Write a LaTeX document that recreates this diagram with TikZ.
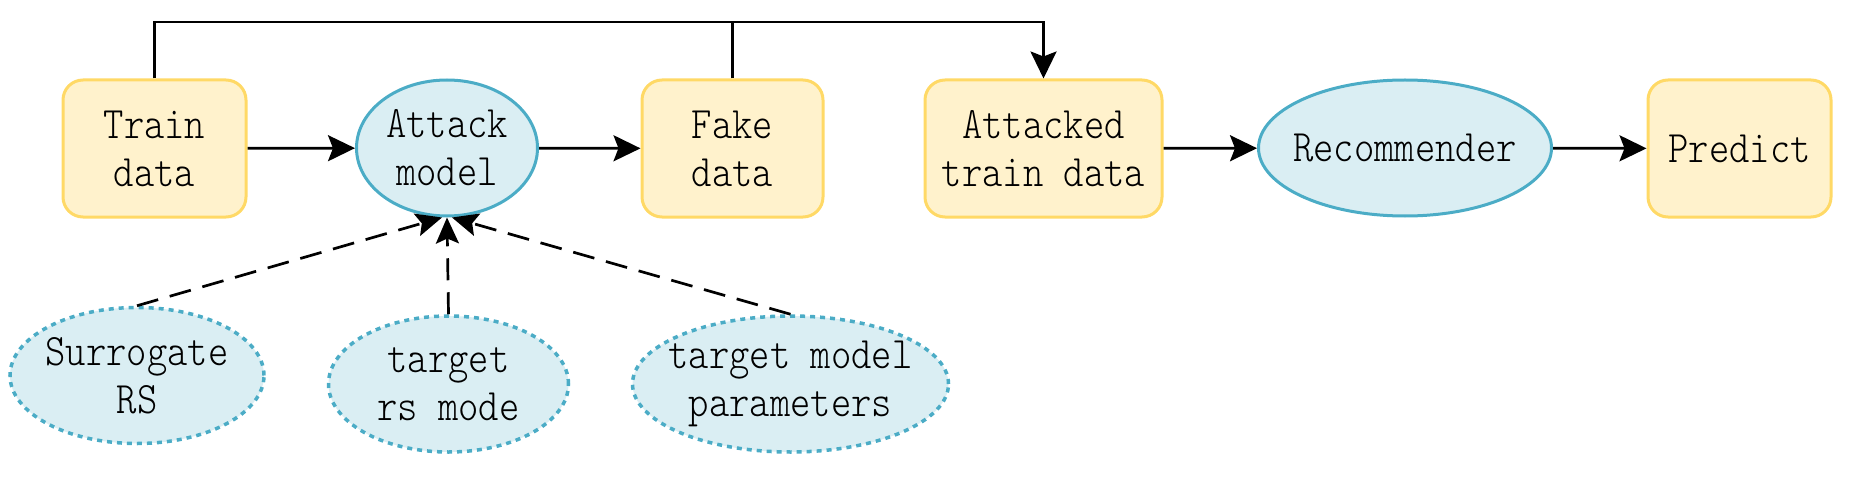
\documentclass[tikz,border=0pt]{standalone}
\usepackage{fontspec}
\newfontfamily\dfont[FakeStretch=0.86]{Latin Modern Mono Light}
\usetikzlibrary{shapes.geometric,arrows.meta}
\definecolor{yfill}{HTML}{FFF2CC}
\definecolor{ydraw}{HTML}{FFD966}
\definecolor{bfill}{HTML}{DAEEF3}
\definecolor{bdraw}{HTML}{4BACC6}
\tikzset{
  lbl/.style={font=\dfont\fontsize{45pt}{48pt}\selectfont, align=center, text=black, inner sep=0pt},
  ybox/.style={lbl, rectangle, rounded corners=20pt, fill=yfill, draw=ydraw, line width=3pt, minimum height=137pt},
  bell/.style={lbl, ellipse, fill=bfill, draw=bdraw, line width=3pt, minimum height=136pt, inner xsep=-20pt},
  dell/.style={lbl, ellipse, fill=bfill, draw=bdraw, line width=3.5pt, dash pattern=on 5pt off 5pt, minimum height=136pt, inner xsep=-20pt},
  conn/.style={line width=2.7pt, draw=black},
  arr/.style={conn, -{Stealth[length=27pt,width=26pt,inset=5pt]}},
  darr/.style={conn, dash pattern=on 22pt off 12pt, -{Stealth[length=26pt,width=23pt,inset=5pt]}}
}
\begin{document}
\begin{tikzpicture}[x=1pt,y=-1pt]
\useasboundingbox (0,0) rectangle (1851,481);
\node[ybox, minimum width=183pt] (train) at (154.5,148.5) {Train\\data};
\node[bell, minimum width=181pt] (attack) at (447,148) {Attack\\model};
\node[ybox, minimum width=181pt] (fake) at (732.5,148.5) {Fake\\data};
\node[ybox, minimum width=237pt] (attacked) at (1043.5,148.5) {Attacked\\train data};
\node[bell, minimum width=293pt] (rec) at (1405,148) {Recommender};
\node[ybox, minimum width=183pt] (predict) at (1739.5,148.5) {Predict};
\node[dell, minimum width=254pt] (sur) at (137,375.5) {Surrogate\\RS};
\node[dell, minimum width=240pt] (trs) at (448.5,384) {target\\rs mode};
\node[dell, minimum width=316pt] (tmp) at (790.5,384) {target model\\parameters};
\coordinate (topline) at (0,22);
\draw[arr] (train) -- (attack);
\draw[arr] (attack) -- (fake);
\draw[arr] (attacked) -- (rec);
\draw[arr] (rec) -- (predict);
\draw[arr] (train.north) |- (attacked.north |- topline) -- (attacked.north);
\draw[conn] (fake.north) -- (fake.north |- topline);
\draw[darr] (sur.north) -- ([xshift=-5pt]attack.south);
\draw[darr] (trs.north) -- (attack.south);
\draw[darr] (tmp.north) -- ([xshift=5pt]attack.south);
\end{tikzpicture}
\end{document}
